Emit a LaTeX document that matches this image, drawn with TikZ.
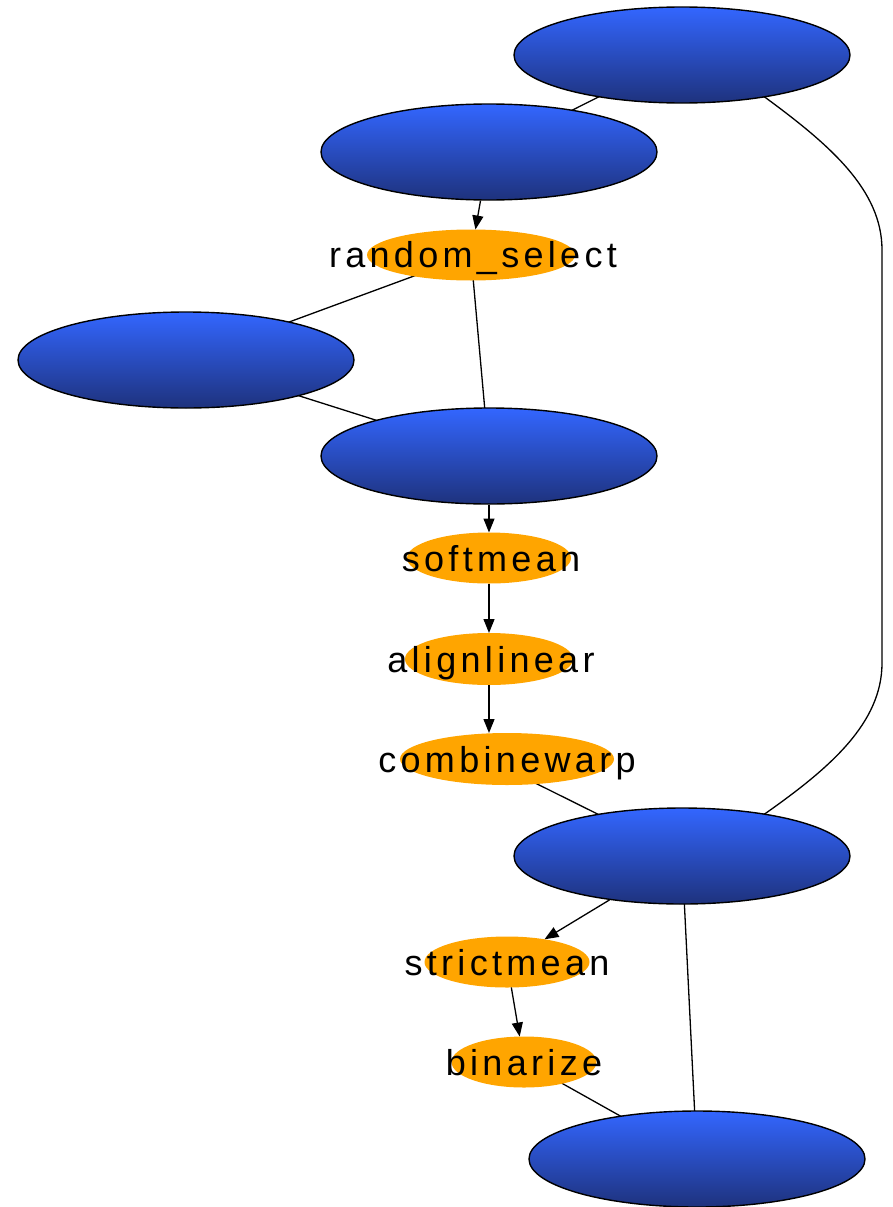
\documentclass[tikz,border=0pt]{standalone}
\usepackage{fontspec}
\newfontfamily\lblfont[LetterSpace=12]{Liberation Sans}
\usetikzlibrary{arrows.meta,backgrounds,shapes.geometric}
\definecolor{bluetop}{RGB}{51,102,255}
\definecolor{bluebot}{RGB}{30,50,125}
\definecolor{orng}{RGB}{255,165,0}
\begin{document}
\begin{tikzpicture}[x=1pt,y=-1pt,
  bluenode/.style={ellipse, draw=black, line width=1.4pt, top color=bluetop, bottom color=bluebot,
    minimum width=336pt, minimum height=96pt, inner sep=0pt},
  opnode/.style={ellipse, fill=orng, inner sep=0pt, outer sep=0pt},
  oplabel/.style={anchor=base, font=\lblfont\fontsize{36}{42}\selectfont, inner sep=0pt, text=black},
  conn/.style={line width=1.3pt, black},
  arr/.style={line width=1.3pt, black, -{Triangle[length=14pt,width=11pt]}},
]
\useasboundingbox (0,0) rectangle (892,1207);

% blue nodes
\node[bluenode] (E1) at (682,55) {};
\node[bluenode] (E2) at (489,152) {};
\node[bluenode] (E3) at (186,360) {};
\node[bluenode] (E4) at (489,456) {};
\node[bluenode] (E5) at (682,856) {};
\node[bluenode] (E6) at (697,1159) {};

% orange operation nodes
\node[opnode, minimum width=208pt, minimum height=51pt] (rs) at (471,255) {};
\node[opnode, minimum width=164pt, minimum height=51pt] (sm) at (489,558) {};
\node[opnode, minimum width=168pt, minimum height=52pt] (al) at (489,659) {};
\node[opnode, minimum width=214pt, minimum height=52pt] (cw) at (507,759) {};
\node[opnode, minimum width=165pt, minimum height=51pt] (st) at (507,962) {};
\node[opnode, minimum width=145pt, minimum height=51pt] (bz) at (524,1062) {};

\node[oplabel] (rst) at ([xshift=2pt,yshift=-12pt]rs.center) {random\_select};
\node[oplabel] (smt) at ([xshift=2pt,yshift=-13pt]sm.center) {softmean};
\node[oplabel] (alt) at ([xshift=2pt,yshift=-13pt]al.center) {alignlinear};
\node[oplabel] (cwt) at ([xshift=0pt,yshift=-13pt]cw.center) {combinewarp};
\node[oplabel] (stt) at ([xshift=0pt,yshift=-13pt]st.center) {strictmean};
\node[oplabel] (bzt) at ([xshift=0pt,yshift=-13pt]bz.center) {binarize};

% undirected connections behind the nodes
\begin{pgfonlayer}{background}
\draw[conn] (E1.center) -- (E2.center);
\draw[conn] (rs.center) -- (E3.center);
\draw[conn] (rs.center) -- (E4.center);
\draw[conn] (E3.center) -- (E4.center);
\draw[conn] ([yshift=-10pt]cw.center) -- (E5.center);
\draw[conn] (E5.center) -- (E6.center);
\draw[conn] (bz.center) -- (E6.center);
\coordinate (c1) at (882,250);
\coordinate (c2) at (882,663);
\draw[conn] (E1.center) -- (E1.-27) .. controls (830,145) and (882,190) .. (c1)
  -- (c2) .. controls (882,723) and (830,768) .. (E5.27) -- (E5.center);
\end{pgfonlayer}

% arrows
\draw[arr] (E2) -- (rs);
\draw[arr] (E4) -- (sm);
\draw[arr] (sm) -- (al);
\draw[arr] (al) -- (al |- cw.north);
\draw[arr] (E5) -- (st);
\draw[arr] (st) -- (bz);
\end{tikzpicture}
\end{document}
